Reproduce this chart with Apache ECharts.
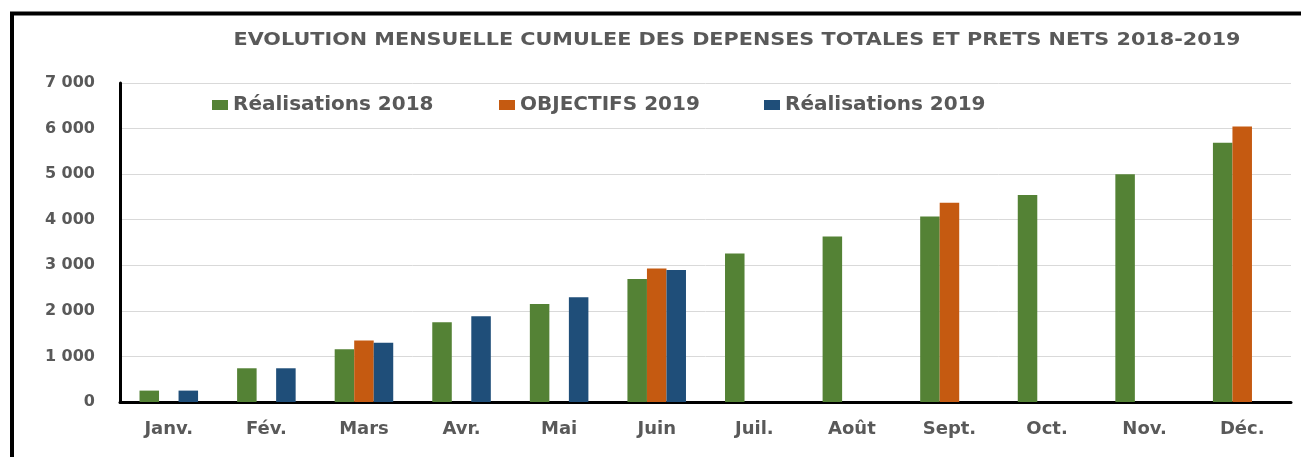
<!DOCTYPE html>
<html>
<head>
<meta charset="utf-8">
<script src="https://cdn.jsdelivr.net/npm/echarts@6/dist/echarts.min.js"></script>
<style>
  html, body { margin: 0; padding: 0; background: #fff; }
  #chart { width: 1301px; height: 457px; }
</style>
</head>
<body>
<div id="chart"></div>
<script>
// data
var months = ["Janv.", "Fév.", "Mars", "Avr.", "Mai", "Juin", "Juil.", "Août", "Sept.", "Oct.", "Nov.", "Déc."];
var real2018 = [250, 740, 1160, 1750, 2150, 2700, 3260, 3630, 4070, 4540, 5000, 5690];
var objectifs2019 = [null, null, 1350, null, null, 2930, null, null, 4370, null, null, 6045];
var real2019 = [250, 740, 1300, 1880, 2300, 2895, null, null, null, null, null, null];
var seriesNames = ["Réalisations 2018", "OBJECTIFS 2019", "Réalisations 2019"];
var titleText = "EVOLUTION MENSUELLE CUMULEE DES DEPENSES TOTALES ET PRETS NETS 2018-2019";

var grey = "#595959";
var font = "DejaVu Sans";

function thousands(v) {
  var s = String(v), out = "";
  while (s.length > 3) {
    out = " " + s.slice(-3) + out;
    s = s.slice(0, s.length - 3);
  }
  return s + out;
}

function legendAt(name, left) {
  return {
    data: [name],
    left: left,
    top: 90,
    itemWidth: 16,
    itemHeight: 10,
    itemGap: 0,
    icon: "rect",
    textStyle: { color: grey, fontFamily: font, fontWeight: "bold", fontSize: 20 }
  };
}

var chart = echarts.init(document.getElementById("chart"));
chart.setOption({
  animation: false,
  color: ["#548235", "#C55A11", "#1F4E79"],
  legend: [
    legendAt(seriesNames[0], 207),
    legendAt(seriesNames[1], 494),
    legendAt(seriesNames[2], 759)
  ],
  grid: { left: 120, right: 10, top: 83, bottom: 55 },
  xAxis: {
    type: "category",
    data: months,
    axisLine: { lineStyle: { color: "#000", width: 3 } },
    axisTick: { show: false },
    axisLabel: { color: grey, fontFamily: font, fontWeight: "bold", fontSize: 18, margin: 18 }
  },
  yAxis: {
    type: "value",
    min: 0,
    max: 7000,
    interval: 1000,
    axisLine: { show: true, lineStyle: { color: "#000", width: 3 } },
    axisTick: { show: false },
    splitLine: { lineStyle: { color: "#d9d9d9", width: 1 } },
    axisLabel: {
      color: grey, fontFamily: font, fontWeight: "bold", fontSize: 16, margin: 25,
      formatter: thousands
    }
  },
  series: [
    { name: seriesNames[0], type: "bar", data: real2018, barGap: "0%", barCategoryGap: "40%" },
    { name: seriesNames[1], type: "bar", data: objectifs2019, barGap: "0%", barCategoryGap: "40%" },
    { name: seriesNames[2], type: "bar", data: real2019, barGap: "0%", barCategoryGap: "40%" }
  ],
  graphic: [
    {
      // chart title, a bit stretched like the original
      type: "text",
      silent: true,
      x: 737,
      y: 41,
      scaleX: 1.22,
      style: {
        text: titleText,
        textAlign: "center",
        textVerticalAlign: "middle",
        fill: grey,
        font: "bold 17px 'DejaVu Sans'"
      }
    },
    {
      type: "rect",
      silent: true,
      shape: { x: 12, y: 13.5, width: 1400, height: 600 },
      style: { fill: "none", stroke: "#000", lineWidth: 4 }
    }
  ]
});
</script>
</body>
</html>
